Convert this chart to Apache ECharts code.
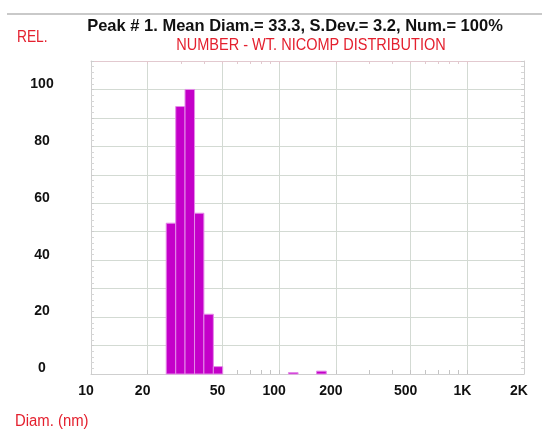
<!DOCTYPE html>
<html>
<head>
<meta charset="utf-8">
<script src="https://cdn.jsdelivr.net/npm/echarts@6/dist/echarts.min.js"></script>
<style>
  html, body { margin: 0; padding: 0; background: #ffffff; }
  #chart { width: 542px; height: 432px; }
</style>
</head>
<body>
<div id="chart"></div>
<script>
// Histogram bins (20 bins per decade), diameter in nm, relative number-weighted amount
const diamLow  = [25.1, 28.2, 31.6, 35.5, 39.8, 44.7, 112, 158];
const diamHigh = [28.2, 31.6, 35.5, 39.8, 44.7, 50.1, 126, 178];
const relNumber = [53, 94, 100, 56.5, 21, 2.6, 0.5, 1.0];

// Axis tick values
const xLabelValues = [10, 20, 50, 100, 200, 500, 1000, 2000];
const xGridValues = [20, 50, 100, 200, 500, 1000];
const xMinorValues = [20, 30, 40, 50, 60, 70, 80, 90, 100, 200, 300, 400, 500, 600, 700, 800, 900, 1000];
const yLabelValues = [0, 20, 40, 60, 80, 100];

const titleText = 'Peak # 1. Mean Diam.= 33.3, S.Dev.= 3.2, Num.= 100%';
const subtitleText = 'NUMBER - WT. NICOMP DISTRIBUTION';

const RED = '#e4202e';
const SANS = "'Liberation Sans', Arial, sans-serif";
const GRID_COLOR = '#d3dad3';
const FRAME_COLOR = '#cfcfcf';

const bins = diamLow.map((lo, i) => [lo, diamHigh[i], relNumber[i]]);

const chart = echarts.init(document.getElementById('chart'), null, { renderer: 'canvas' });

const logAxisBase = { type: 'log', logBase: 10, min: 10, max: 2000, gridIndex: 0 };

// Condensed red caption text
function caption(text, x, y, size, align, squeeze) {
  return {
    type: 'text', x: x, y: y, scaleX: squeeze, silent: true,
    style: {
      text: text, fill: RED, font: 'normal ' + size + 'px ' + SANS,
      textAlign: align, textVerticalAlign: 'middle'
    }
  };
}

chart.setOption({
  animation: false,
  backgroundColor: '#ffffff',
  title: [
    {
      text: titleText, left: 295, top: 18, padding: 0, textAlign: 'center',
      textStyle: { fontFamily: SANS, fontWeight: 'bold', fontSize: 16.5, color: '#111111' }
    }
  ],
  graphic: [
    {
      type: 'line', shape: { x1: 7, y1: 14, x2: 542, y2: 14 },
      style: { stroke: '#c9c9c9', lineWidth: 2 }, silent: true
    },
    caption(subtitleText, 311, 45, 16.5, 'center', 0.88),
    caption('REL.', 17, 38, 16, 'left', 0.86),
    caption('Diam. (nm)', 15, 422, 16, 'left', 0.93)
  ],
  grid: { left: 91, right: 18, top: 61, bottom: 58, containLabel: false },
  xAxis: [
    // bottom axis: frame line, minor ticks and labels
    Object.assign({}, logAxisBase, {
      position: 'bottom',
      axisLine: { show: true, lineStyle: { color: FRAME_COLOR, width: 1 } },
      axisTick: { show: true, inside: true, length: 4, customValues: xMinorValues, lineStyle: { color: '#c4c4c4' } },
      axisLabel: {
        show: true, customValues: xLabelValues, margin: 10,
        fontFamily: SANS, fontWeight: 'bold', fontSize: 14, color: '#111111',
        padding: [0, 10, 0, 0],
        formatter: v => (v >= 1000 ? (v / 1000) + 'K' : String(v))
      },
      splitLine: { show: false },
      minorTick: { show: false }, minorSplitLine: { show: false }
    }),
    // vertical grid lines
    Object.assign({}, logAxisBase, {
      position: 'bottom',
      axisLine: { show: false },
      axisTick: { show: false, customValues: xGridValues },
      axisLabel: { show: false },
      splitLine: { show: true, lineStyle: { color: GRID_COLOR, width: 1 } }
    }),
    // top frame with small ticks
    Object.assign({}, logAxisBase, {
      position: 'top',
      axisLine: { show: true, lineStyle: { color: '#e2c9cf', width: 1 } },
      axisTick: { show: true, inside: true, length: 3, customValues: xMinorValues, lineStyle: { color: '#e2c9cf' } },
      axisLabel: { show: false },
      splitLine: { show: false }
    })
  ],
  yAxis: [
    {
      type: 'value', min: 0, max: 110, interval: 10, position: 'left',
      axisLine: { show: true, lineStyle: { color: FRAME_COLOR, width: 1 } },
      axisTick: { show: true, inside: true, length: 3, lineStyle: { color: '#cccccc' } },
      minorTick: { show: true, splitNumber: 5, length: 3, lineStyle: { color: '#d6d6d6' } },
      axisLabel: {
        show: true, customValues: yLabelValues, margin: 49, align: 'center',
        verticalAlign: 'bottom', lineHeight: 11,
        fontFamily: SANS, fontWeight: 'bold', fontSize: 14, color: '#111111'
      },
      splitLine: { show: true, lineStyle: { color: GRID_COLOR, width: 1 } }
    },
    {
      type: 'value', min: 0, max: 110, interval: 10, position: 'right',
      axisLine: { show: true, lineStyle: { color: FRAME_COLOR, width: 1 } },
      axisTick: { show: true, inside: true, length: 3, lineStyle: { color: '#cccccc' } },
      minorTick: { show: true, splitNumber: 5, length: 3, lineStyle: { color: '#d6d6d6' } },
      axisLabel: { show: false },
      splitLine: { show: false }
    }
  ],
  series: [
    {
      type: 'custom',
      xAxisIndex: 0,
      yAxisIndex: 0,
      data: bins,
      encode: { x: [0, 1], y: 2 },
      renderItem: function (params, api) {
        const lo = api.value(0);
        const hi = api.value(1);
        const v = api.value(2);
        const base = api.coord([lo, 0]);
        const top = api.coord([hi, v]);
        return {
          type: 'rect',
          shape: { x: base[0], y: top[1], width: top[0] - base[0], height: base[1] - top[1] },
          style: { fill: '#c400c9', stroke: '#e48be8', lineWidth: 1 }
        };
      }
    }
  ]
});
</script>
</body>
</html>
